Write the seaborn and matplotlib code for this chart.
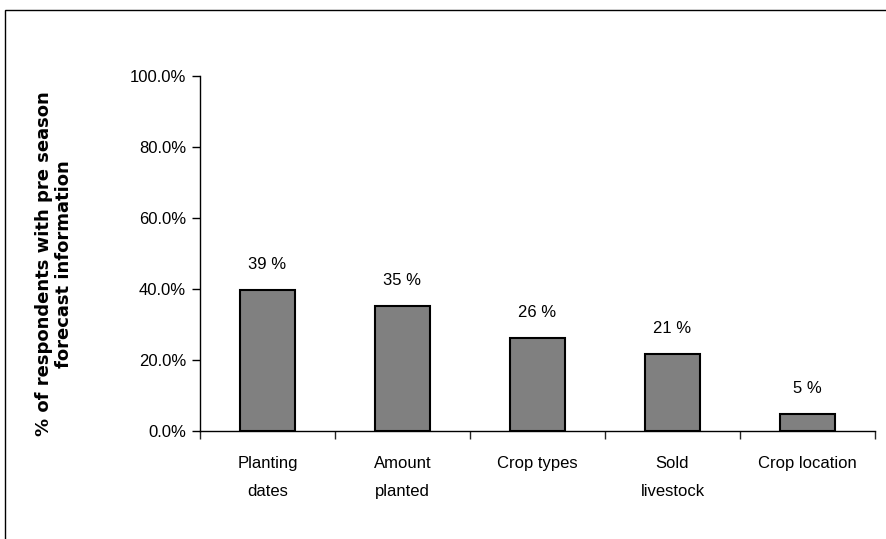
import matplotlib
matplotlib.use("Agg")
import matplotlib.pyplot as plt
import seaborn as sns
import pandas as pd
from matplotlib.patches import Rectangle
from matplotlib.ticker import FixedLocator, FuncFormatter

categories = ["Planting\ndates", "Amount\nplanted", "Crop types", "Sold\nlivestock", "Crop location"]
values = [39.7, 35.2, 26.2, 21.7, 4.8]
labels = ["39 %", "35 %", "26 %", "21 %", "5 %"]
yticks = [0, 20, 40, 60, 80, 100]

sns.set_style("white")
plt.rcParams['font.family'] = ['Liberation Sans', 'DejaVu Sans']
plt.rcParams['text.color'] = 'black'

fig = plt.figure(figsize=(8.87, 5.39), dpi=100)
ax = fig.add_axes([200/887, 1-431/539, 675/887, 355/539])

df = pd.DataFrame({"cat": categories, "val": values})
sns.barplot(data=df, x="cat", y="val", color="#808080", edgecolor="black",
            linewidth=1.5, width=0.41, saturation=1, ax=ax)

ax.set_ylim(0, 100)
ax.set_xlim(-0.5, len(categories) - 0.5)
ax.set_yticks(yticks)
ax.yaxis.set_major_formatter(FuncFormatter(lambda v, p: f"{v:.1f}%"))
ax.tick_params(axis='y', which='major', length=6, width=1, direction='out',
               labelsize=12, colors='black', left=True, pad=4)
ax.tick_params(axis='x', which='major', length=0, labelsize=12, pad=18, colors='black')
for t in ax.get_xticklabels():
    t.set_linespacing(2.1)
ax.xaxis.set_minor_locator(FixedLocator([i - 0.5 for i in range(len(categories) + 1)]))
ax.tick_params(axis='x', which='minor', length=6, width=1, direction='out', bottom=True)
ax.set_xlabel("")
ax.set_ylabel("")
fig.text(54/887, 1-264/539, "% of respondents with pre season\nforecast information",
         rotation=90, ha="center", va="center", fontsize=13, fontweight='bold',
         family=['DejaVu Sans'], linespacing=1.15, color='black')
for s in ["top", "right"]:
    ax.spines[s].set_visible(False)
for s in ["left", "bottom"]:
    ax.spines[s].set_color("black")
    ax.spines[s].set_linewidth(1)

for i, (v, lab) in enumerate(zip(values, labels)):
    ax.annotate(lab, (i, v), xytext=(0, 13), textcoords="offset points",
                ha="center", va="bottom", fontsize=12, color='black')

fig.patches.append(Rectangle((5/887, -0.1), 1.2, 1 - 10/539 + 0.1,
                             transform=fig.transFigure, fill=False,
                             edgecolor="black", linewidth=1))

fig.savefig("out.png", dpi=100)
